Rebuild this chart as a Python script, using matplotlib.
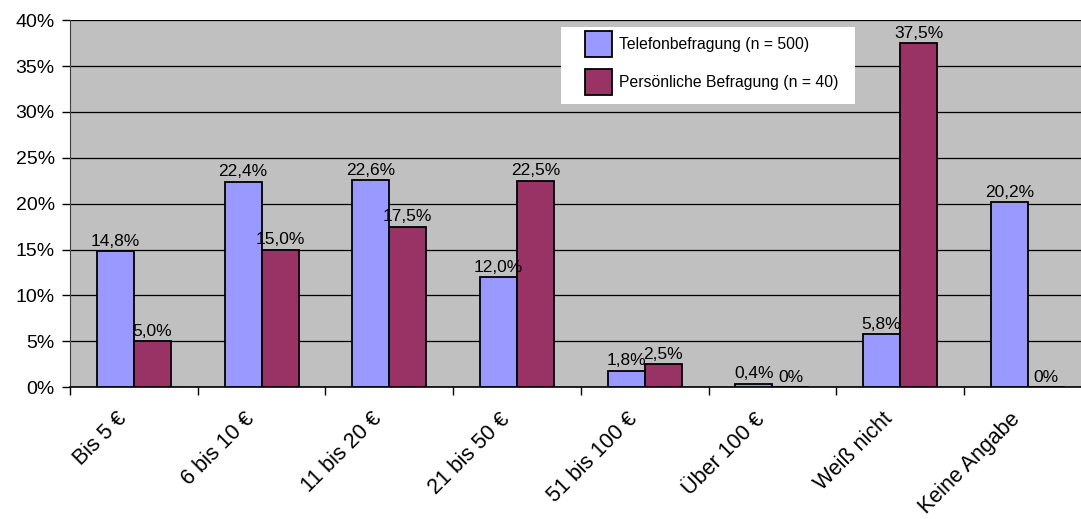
import numpy as np
import matplotlib.pyplot as plt
import matplotlib.transforms as mtransforms
from matplotlib.patches import Rectangle
from matplotlib.ticker import FixedLocator, PercentFormatter

plt.rcParams['font.family'] = ['Liberation Sans', 'DejaVu Sans']

categories = ['Bis 5 €', '6 bis 10 €', '11 bis 20 €', '21 bis 50 €',
              '51 bis 100 €', 'Über 100 €', 'Weiß nicht', 'Keine Angabe']
telefon = [14.8, 22.4, 22.6, 12.0, 1.8, 0.4, 5.8, 20.2]
persoenlich = [5.0, 15.0, 17.5, 22.5, 2.5, 0.0, 37.5, 0.0]
series_names = ['Telefonbefragung (n = 500)', 'Persönliche Befragung (n = 40)']


def fmt(v):
    # German decimal comma, zero shown without decimals
    if v == 0:
        return '0%'
    return ('%.1f%%' % v).replace('.', ',')


fig = plt.figure(figsize=(10.81, 5.19), dpi=100)
# plot area runs a bit past the right edge of the figure
ax = fig.add_axes([0.0648, 0.254, 0.945, 0.707])
ax.set_facecolor('#C0C0C0')

x = np.arange(len(categories))
w = 0.29
b1 = ax.bar(x - w / 2, telefon, w, color='#9999FF', edgecolor='black',
            linewidth=1.3, label=series_names[0], zorder=3)
b2 = ax.bar(x + w / 2, persoenlich, w, color='#993366', edgecolor='black',
            linewidth=1.3, label=series_names[1], zorder=3)

for bars, vals in ((b1, telefon), (b2, persoenlich)):
    for r, v in zip(bars, vals):
        ax.text(r.get_x() + r.get_width() / 2, v + 0.25, fmt(v),
                ha='center', va='bottom', fontsize=12.5, zorder=4)

ax.set_xlim(-0.5, len(categories) - 0.5)
ax.set_ylim(0, 40)
ax.yaxis.set_major_locator(FixedLocator(np.arange(0, 41, 5)))
ax.yaxis.set_major_formatter(PercentFormatter(decimals=0))
ax.grid(axis='y', color='black', linewidth=0.9, zorder=1)
ax.tick_params(axis='y', labelsize=14, length=6, width=1, direction='out',
               colors='black', pad=5)

ax.set_xticks(x)
ax.set_xticklabels(categories, rotation=45, ha='right', va='top',
                   rotation_mode='anchor', fontsize=15.5)
ax.tick_params(axis='x', which='major', length=0, pad=14)
shift = mtransforms.ScaledTranslation(-18 / 100, -2 / 100, fig.dpi_scale_trans)
for lbl in ax.get_xticklabels():
    lbl.set_transform(lbl.get_transform() + shift)
ax.xaxis.set_minor_locator(FixedLocator(np.arange(-0.5, len(categories), 1.0)))
ax.tick_params(axis='x', which='minor', length=6, width=1, direction='out')

for side in ('top', 'right'):
    ax.spines[side].set_visible(False)
ax.spines['left'].set_color('#404040')
ax.spines['bottom'].set_linewidth(1.2)

# white legend box, wider than the entries themselves
ax.add_patch(Rectangle((0.4804, 0.771), 0.2877, 0.210, transform=ax.transAxes,
                       facecolor='white', edgecolor='none', zorder=5))
leg = ax.legend(loc='upper left', bbox_to_anchor=(0.504, 0.972), fontsize=11.3,
                frameon=False, borderpad=0, labelspacing=0.75,
                handlelength=1.7, handleheight=2.2, handletextpad=0.5,
                borderaxespad=0)
leg.set_zorder(6)

fig.savefig('out.png', dpi=100)
